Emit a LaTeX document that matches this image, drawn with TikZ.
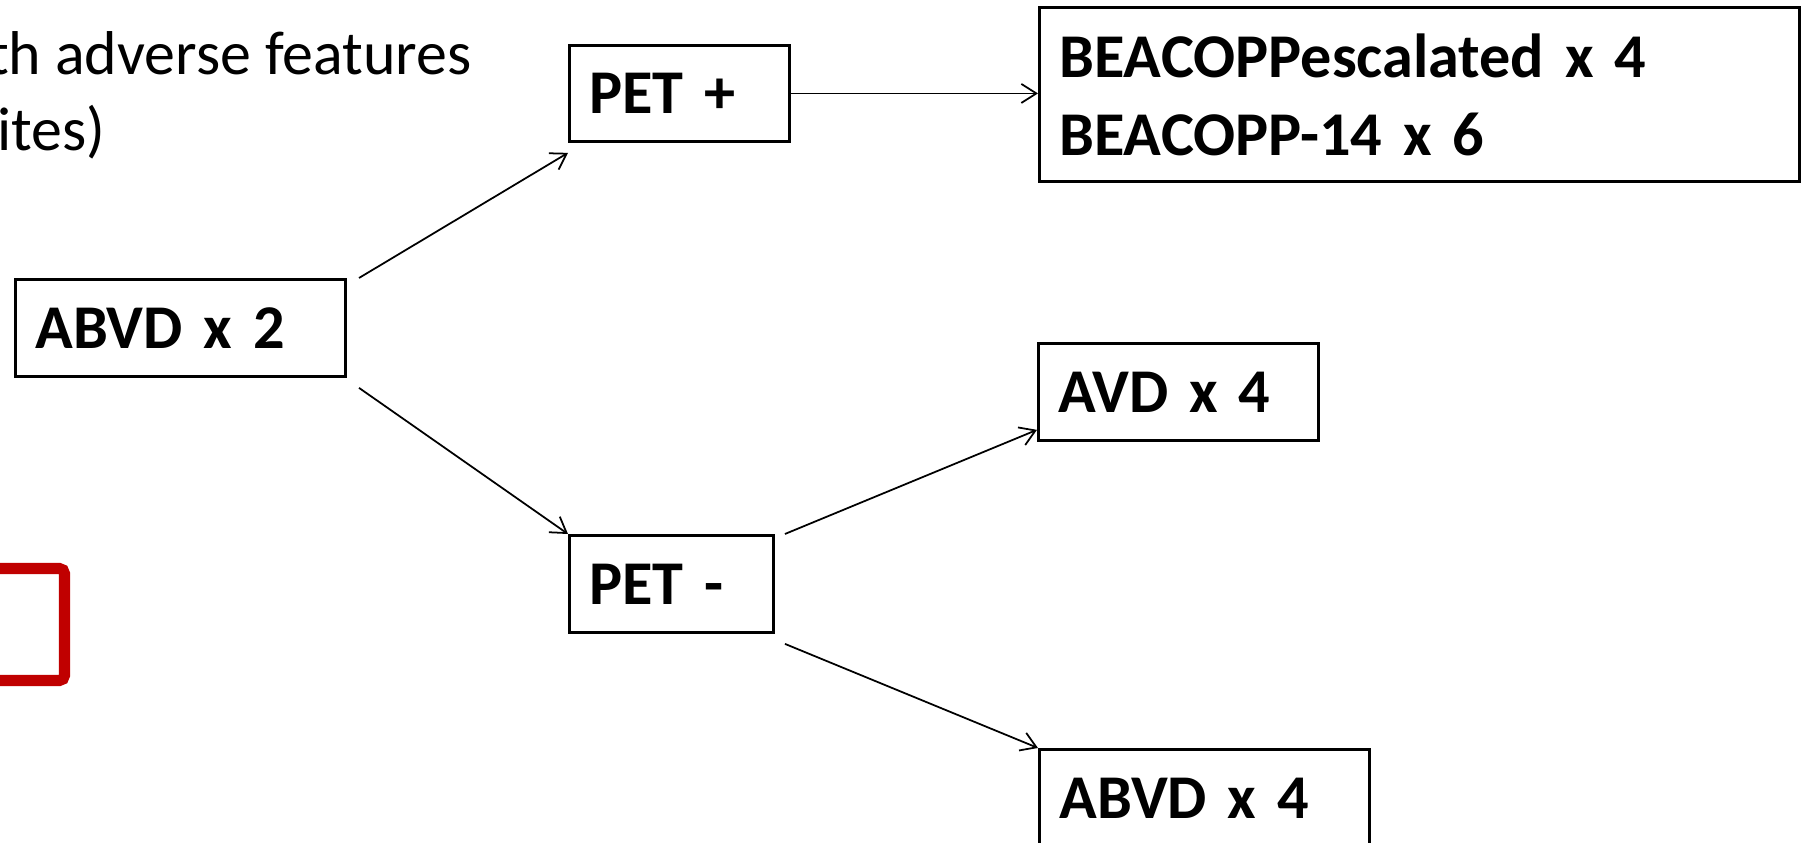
\documentclass[tikz,border=0pt]{standalone}
\usepackage{fontspec}
\setmainfont{Carlito}
\usetikzlibrary{arrows.meta}

\definecolor{bracketred}{HTML}{C00000}
\newcommand{\boxfont}{\fontsize{17.7pt}{22.2pt}\selectfont\bfseries\spaceskip=0.24em\relax}
\newcommand{\notefont}{\fontsize{17.6pt}{22.2pt}\selectfont}

\tikzset{
  regbox/.style={draw, line width=0.8pt, anchor=north west, inner xsep=0.2cm,
    inner ysep=0pt, align=left, font=\boxfont},
  flow/.style={->, line width=0.5pt},
  >={Straight Barb[length=0.15cm, width=0.19cm]}
}

\begin{document}
\begin{tikzpicture}[x=0.01cm, y=-0.01cm]
\useasboundingbox (0,0) rectangle (1808,843);

% note text, cut at the left edge
\node[anchor=base east, inner sep=0pt, font=\notefont] (featline) at (472,75) {th adverse features};
\node[anchor=base east, inner sep=0pt, font=\notefont] (sitesline) at (106,151) {ites)};

% red frame, cut at the left edge
\draw[bracketred, line width=0.11cm, rounded corners=0.05cm]
  (-40,568.5) -- (64.5,568.5) -- (64.5,680.5) -- (-40,680.5);

% regimen boxes
\node[regbox, text width=2.90cm, minimum height=0.97cm] (abvdtwo) at (14,278) {ABVD x 2};
\node[regbox, text width=1.80cm, minimum height=0.96cm] (petpos) at (568,44) {PET +};
\node[regbox, text width=1.64cm, minimum height=0.97cm] (petneg) at (568,534) {PET -};
\node[regbox, text width=7.20cm, minimum height=1.74cm] (beacopp) at (1038,6)
  {BEACOPPescalated x 4\\BEACOPP-14 x 6};
\node[regbox, text width=2.40cm, minimum height=0.97cm] (avd) at (1037,342) {AVD x 4};
\node[regbox, text width=2.90cm, minimum height=0.97cm] (abvdfour) at (1038,748) {ABVD x 4};

% connectors
\draw[flow] ([xshift=0.12cm]abvdtwo.north east) -- ([yshift=-0.1cm]petpos.south west);
\draw[flow] ([xshift=0.12cm, yshift=-0.1cm]abvdtwo.south east) -- (petneg.north west);
\draw[flow] (petpos.east) -- (petpos.east -| beacopp.west);
\draw[flow] ([xshift=0.1cm]petneg.north east) -- ([yshift=0.12cm]avd.south west);
\draw[flow] ([xshift=0.1cm, yshift=-0.1cm]petneg.south east) -- (abvdfour.north west);

\end{tikzpicture}
\end{document}
